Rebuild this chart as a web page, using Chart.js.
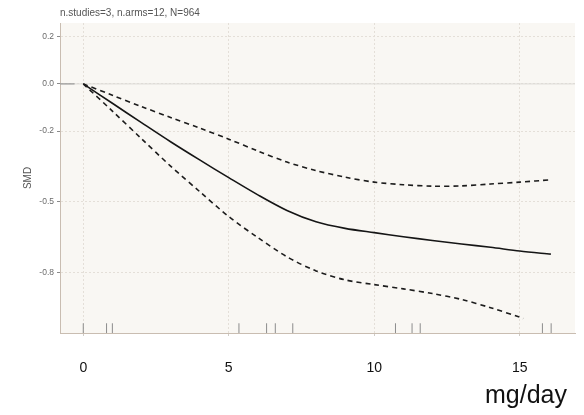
<!DOCTYPE html>
<html>
<head>
<meta charset="utf-8">
<script src="https://cdn.jsdelivr.net/npm/chart.js@4.4.1/dist/chart.umd.min.js"></script>
<style>
  html, body { margin: 0; padding: 0; background: #ffffff; }
  #wrap { width: 584px; height: 415px; }
</style>
</head>
<body>
<div id="wrap"><canvas id="c" width="584" height="415"></canvas></div>
<script>
// Dose-response curve: pooled SMD with 95% confidence band
const doses      = [0, 1, 2, 3, 4, 5, 6, 7, 8, 9, 10, 11, 12, 13, 14, 15, 16.07];
const smdMean    = [0, -0.082, -0.164, -0.245, -0.322, -0.397, -0.470, -0.536, -0.584, -0.612, -0.630, -0.647, -0.663, -0.678, -0.692, -0.708, -0.721];
const smdUpper   = [0, -0.048, -0.096, -0.142, -0.187, -0.234, -0.284, -0.331, -0.367, -0.395, -0.416, -0.427, -0.433, -0.432, -0.424, -0.416, -0.406];
const lowerDoses = [0, 1, 2, 3, 4, 5, 6, 7, 8, 9, 10, 11, 12, 13, 14, 15, 15.12];
const smdLower   = [0, -0.115, -0.232, -0.348, -0.456, -0.562, -0.651, -0.732, -0.792, -0.830, -0.850, -0.868, -0.888, -0.913, -0.948, -0.988, -0.994];
// doses of the study arms (rug)
const armDoses   = [0, 0.8, 1.0, 5.35, 6.3, 6.6, 7.2, 10.73, 11.3, 11.58, 15.78, 16.08];
const xTicks     = [0, 5, 10, 15];
const yTicks     = [-0.8, -0.5, -0.2, 0, 0.2];
const yTickLabels = ['-0.8', '-0.5', '-0.2', '0.0', '0.2'];
const subtitle   = 'n.studies=3, n.arms=12, N=964';
const yTitle     = 'SMD';
const xTitle     = 'mg/day';

const X_MIN = -0.8, X_MAX = 16.9, Y_MIN = -1.055, Y_MAX = 0.258;
const RUG_Y = -1.035;

const pts = (xs, ys) => xs.map((x, i) => ({ x: x, y: ys[i] }));

const FONT = "'Liberation Sans', Arial, sans-serif";

const panelPlugin = {
  id: 'panel',
  beforeDraw(chart) {
    const { ctx, chartArea: a } = chart;
    ctx.save();
    ctx.fillStyle = '#f9f7f3';
    ctx.fillRect(a.left, a.top, a.right - a.left, a.bottom - a.top);
    ctx.restore();
  },
  afterDraw(chart) {
    const { ctx, chartArea: a } = chart;
    ctx.save();
    ctx.fillStyle = '#555555';
    ctx.font = '10px ' + FONT;
    ctx.textAlign = 'left';
    ctx.textBaseline = 'middle';
    ctx.fillText(subtitle, a.left, 13);

    ctx.translate(28, (a.top + a.bottom) / 2);
    ctx.rotate(-Math.PI / 2);
    ctx.textAlign = 'center';
    ctx.fillText(yTitle, 0, 0);
    ctx.restore();

    ctx.save();
    ctx.fillStyle = '#111111';
    ctx.font = '25px ' + FONT;
    ctx.textAlign = 'right';
    ctx.textBaseline = 'alphabetic';
    ctx.fillText(xTitle, 567, 403);
    ctx.restore();
  }
};

new Chart(document.getElementById('c'), {
  type: 'line',
  data: {
    datasets: [
      { // reference line at zero
        data: pts([X_MIN, X_MAX], [0, 0]),
        borderColor: '#dcdad6', borderWidth: 1, pointRadius: 0, order: 5
      },
      {
        data: pts([X_MIN, -0.3], [0, 0]),
        borderColor: '#8a8a8a', borderWidth: 1, pointRadius: 0, order: 4
      },
      {
        data: pts(doses, smdUpper),
        borderColor: '#1c1c1c', borderWidth: 1.6, borderDash: [5, 4],
        pointRadius: 0, tension: 0.3
      },
      {
        data: pts(lowerDoses, smdLower),
        borderColor: '#1c1c1c', borderWidth: 1.6, borderDash: [5, 4],
        pointRadius: 0, tension: 0.3
      },
      {
        data: pts(doses, smdMean),
        borderColor: '#151515', borderWidth: 1.6,
        pointRadius: 0, tension: 0.3
      },
      { // rug of arm doses
        data: armDoses.map(d => ({ x: d, y: RUG_Y })),
        showLine: false,
        pointStyle: 'line', rotation: 90, pointRadius: 5,
        borderColor: '#8c8c8c', borderWidth: 1
      }
    ]
  },
  options: {
    responsive: false,
    animation: false,
    devicePixelRatio: 1,
    layout: { padding: { top: 23, right: 9, left: 0, bottom: 0 } },
    plugins: { legend: { display: false }, tooltip: { enabled: false }, title: { display: false } },
    scales: {
      x: {
        type: 'linear', min: X_MIN, max: X_MAX,
        afterBuildTicks: s => { s.ticks = xTicks.map(v => ({ value: v })); },
        afterFit: s => { s.height = 82; },
        ticks: { color: '#111111', font: { size: 14, family: FONT }, padding: 24, maxRotation: 0,
                 callback: v => String(v) },
        grid: { color: '#e4dfd8', lineWidth: 1, tickLength: 3, tickColor: '#d0ccc6' },
        border: { color: '#c9bdb1', width: 1, dash: [2, 2] }
      },
      y: {
        type: 'linear', min: Y_MIN, max: Y_MAX,
        afterBuildTicks: s => { s.ticks = yTicks.map(v => ({ value: v })); },
        afterFit: s => { s.width = 60; },
        ticks: { color: '#6b6b6b', font: { size: 8.5, family: FONT }, padding: 3,
                 callback: (v, i) => yTickLabels[yTicks.indexOf(v)] },
        grid: { color: '#e4dfd8', lineWidth: 1, tickLength: 3, tickColor: '#8a8a8a' },
        border: { color: '#c9bdb1', width: 1, dash: [2, 2] }
      }
    }
  },
  plugins: [panelPlugin]
});
</script>
</body>
</html>
